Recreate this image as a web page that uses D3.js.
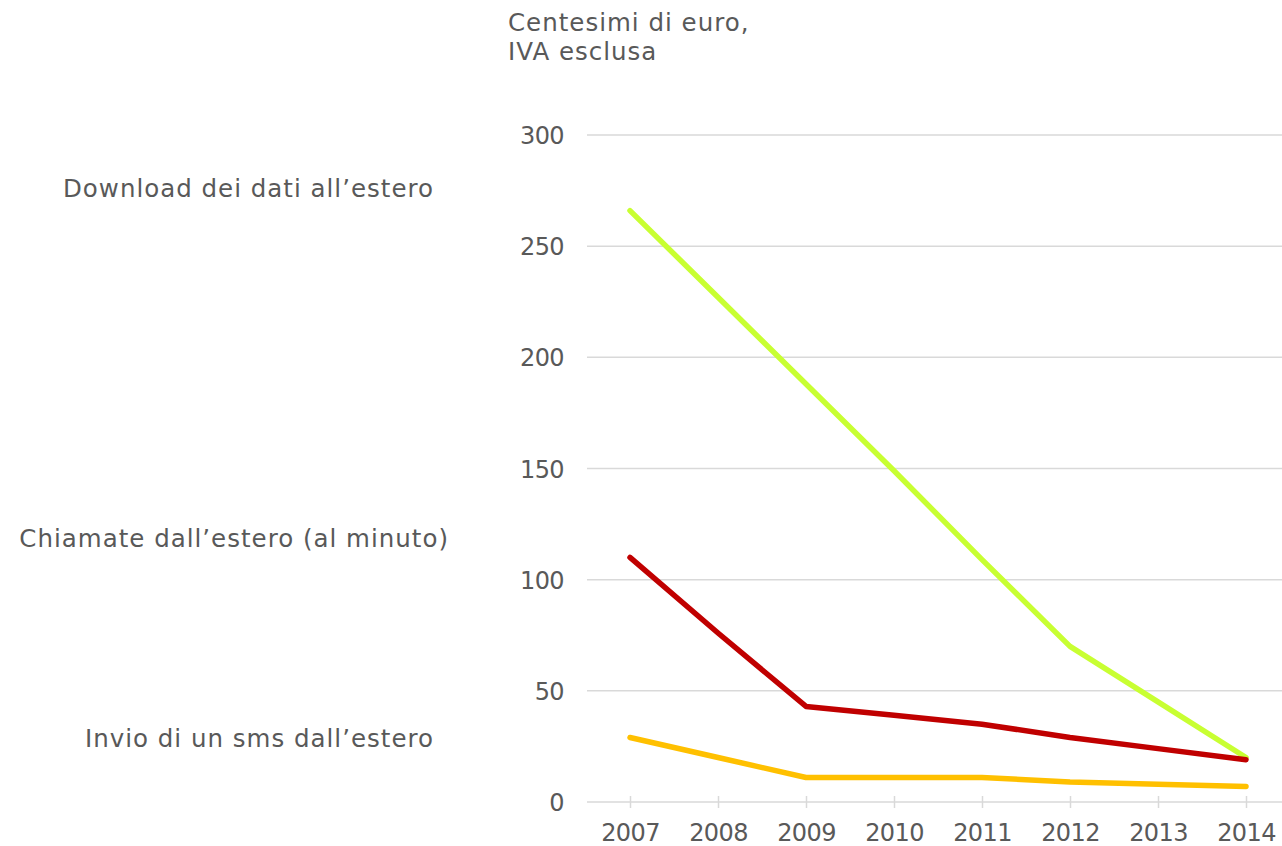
<!DOCTYPE html>
<html>
<head>
<meta charset="utf-8">
<script src="https://cdn.jsdelivr.net/npm/d3@7"></script>
<style>
  html, body { margin: 0; padding: 0; background: #fff; }
  svg { display: block; }
  text { font-family: "DejaVu Sans", Verdana, sans-serif; fill: #595959; }
</style>
</head>
<body>
<svg id="chart" width="1282" height="846"></svg>
<script>
// Roaming prices, euro cents excl. VAT
const years = [2007, 2008, 2009, 2010, 2011, 2012, 2013, 2014];
const download = [266, 227, 188, 149, 109, 70, 45, 20];
const chiamate = [110, 76, 43, 39, 35, 29, 24, 19];
const sms = [29, 20, 11, 11, 11, 9, 8, 7];
const yTicks = [0, 50, 100, 150, 200, 250, 300];
const seriesNames = ["Download dei dati all\u2019estero", "Chiamate dall\u2019estero (al minuto)", "Invio di un sms dall\u2019estero"];
const titleLines = ["Centesimi di euro,", "IVA esclusa"];

const svg = d3.select("#chart");
const labelFont = { size: 24.5, spacing: 1 };
const numberFont = { size: 24, spacing: -0.6 };

const x = d3.scaleLinear().domain([2007, 2014]).range([630, 1246]);
const y = d3.scaleLinear().domain([0, 300]).range([802, 135]);
const gridLeft = 587, gridRight = 1282;

// Horizontal gridlines
svg.append("g")
  .selectAll("line")
  .data(yTicks)
  .join("line")
  .attr("x1", gridLeft).attr("x2", gridRight)
  .attr("y1", d => y(d)).attr("y2", d => y(d))
  .attr("stroke", "#d9d9d9").attr("stroke-width", 1.5);

// Y axis labels
const yAxis = svg.append("g")
  .attr("transform", `translate(${564},0)`)
  .call(d3.axisLeft(y).tickValues(yTicks).tickSize(0).tickPadding(0));
yAxis.select(".domain").remove();
yAxis.selectAll("text")
  .attr("font-size", numberFont.size)
  .attr("letter-spacing", numberFont.spacing)
  .attr("font-family", "DejaVu Sans, Verdana, sans-serif")
  .attr("fill", "#595959")
  .attr("dy", "0.36em");

// X axis: ticks crossing the zero line, labels below
const xAxis = svg.append("g")
  .attr("transform", `translate(0,${y(0) - 6})`)
  .call(d3.axisBottom(x).tickValues(years).tickFormat(d3.format("d")).tickSize(12).tickPadding(0));
xAxis.select(".domain").remove();
xAxis.selectAll(".tick line").attr("stroke", "#d9d9d9").attr("stroke-width", 1.5);
xAxis.selectAll("text")
  .attr("font-size", numberFont.size)
  .attr("letter-spacing", numberFont.spacing)
  .attr("font-family", "DejaVu Sans, Verdana, sans-serif")
  .attr("fill", "#595959")
  .attr("y", 45)
  .attr("dy", 0);

// Series lines
const series = [
  { values: download, color: "#c8ff32" },
  { values: chiamate, color: "#c00000" },
  { values: sms, color: "#ffc000" }
];
const line = d3.line()
  .x((d, i) => x(years[i]))
  .y(d => y(d));
svg.append("g")
  .selectAll("path")
  .data(series)
  .join("path")
  .attr("d", d => line(d.values))
  .attr("fill", "none")
  .attr("stroke", d => d.color)
  .attr("stroke-width", 5.5)
  .attr("stroke-linecap", "round")
  .attr("stroke-linejoin", "round");

// Series names on the left
const labelPos = [
  { x: 434, y: 197 },
  { x: 449, y: 547 },
  { x: 434, y: 747 }
];
svg.append("g")
  .selectAll("text")
  .data(seriesNames)
  .join("text")
  .attr("x", (d, i) => labelPos[i].x)
  .attr("y", (d, i) => labelPos[i].y)
  .attr("text-anchor", "end")
  .attr("font-size", labelFont.size)
  .attr("letter-spacing", labelFont.spacing)
  .text(d => d);

// Unit title
svg.append("g")
  .selectAll("text")
  .data(titleLines)
  .join("text")
  .attr("x", 508)
  .attr("y", (d, i) => 31 + i * 28.5)
  .attr("font-size", labelFont.size)
  .attr("letter-spacing", labelFont.spacing)
  .text(d => d);
</script>
</body>
</html>
